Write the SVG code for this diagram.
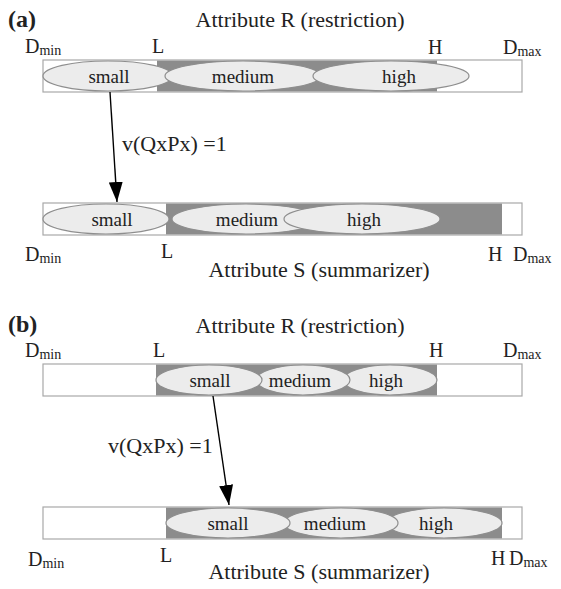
<svg xmlns="http://www.w3.org/2000/svg" width="561" height="589" viewBox="0 0 561 589" font-family="'Liberation Serif', 'DejaVu Serif', serif">
<style>
text{font-family:'Liberation Serif','DejaVu Serif',serif;fill:#222}
.lbl{font-size:20px}
.sub{font-size:14px}
.ttl{font-size:22px}
.pan{font-size:24px;font-weight:bold}
.el{font-size:19px;text-anchor:middle}
.bar{fill:#fff;stroke:#a8a8a8;stroke-width:1.2}
.dark{fill:#8c8c8c}
.ell{fill:#ececec;stroke:#8e8e8e;stroke-width:1.2}
.arr{stroke:#000;stroke-width:1.4;fill:none}
</style>
<defs>
<marker id="ah" markerUnits="userSpaceOnUse" markerWidth="20" markerHeight="14" refX="20" refY="7" orient="auto">
<path d="M0,0 L20,7 L0,14 z" fill="#000"/>
</marker>
</defs>
<rect width="561" height="589" fill="#fff"/>

<!-- Panel a -->
<text class="pan" x="8" y="27">(a)</text>
<text class="ttl" x="300" y="27" text-anchor="middle">Attribute R (restriction)</text>
<text class="lbl" x="25" y="53">D<tspan class="sub" dy="2">min</tspan></text>
<text class="lbl" x="152" y="53">L</text>
<text class="lbl" x="428" y="54">H</text>
<text class="lbl" x="503" y="54">D<tspan class="sub" dy="2">max</tspan></text>

<g id="barA1">
<rect class="bar" x="43" y="60" width="479" height="32"/>
<rect class="dark" x="157" y="60.6" width="280" height="30.8"/>
<ellipse class="ell" cx="108" cy="76" rx="65" ry="15"/>
<ellipse class="ell" cx="243" cy="76" rx="78" ry="15"/>
<ellipse class="ell" cx="391" cy="76" rx="78" ry="15"/>
<text class="el" x="109" y="83">small</text>
<text class="el" x="243" y="83">medium</text>
<text class="el" x="399" y="83">high</text>
</g>

<g id="barA2">
<rect class="bar" x="43" y="203" width="479" height="32"/>
<rect class="dark" x="166" y="203.6" width="336" height="30.8"/>
<ellipse class="ell" cx="106" cy="219" rx="63" ry="15"/>
<ellipse class="ell" cx="246" cy="219" rx="74" ry="15"/>
<ellipse class="ell" cx="362" cy="219" rx="78" ry="15"/>
<text class="el" x="112" y="226">small</text>
<text class="el" x="247" y="226">medium</text>
<text class="el" x="364" y="226">high</text>
</g>

<text class="lbl" x="25" y="261">D<tspan class="sub" dy="2">min</tspan></text>
<text class="lbl" x="161" y="258">L</text>
<text class="lbl" x="488" y="261">H</text>
<text class="lbl" x="513" y="261">D<tspan class="sub" dy="2">max</tspan></text>
<text class="ttl" x="319" y="277" text-anchor="middle">Attribute S (summarizer)</text>

<!-- Panel b -->
<text class="pan" x="8" y="332">(b)</text>
<text class="ttl" x="300" y="333" text-anchor="middle">Attribute R (restriction)</text>
<text class="lbl" x="25" y="357">D<tspan class="sub" dy="2">min</tspan></text>
<text class="lbl" x="153" y="357">L</text>
<text class="lbl" x="429" y="357">H</text>
<text class="lbl" x="503" y="357">D<tspan class="sub" dy="2">max</tspan></text>

<g id="barB1">
<rect class="bar" x="43" y="364" width="479" height="32"/>
<rect class="dark" x="156" y="364.6" width="281" height="30.8"/>
<ellipse class="ell" cx="390" cy="380" rx="47" ry="15"/>
<ellipse class="ell" cx="303" cy="380" rx="47" ry="15"/>
<ellipse class="ell" cx="209" cy="380" rx="53" ry="15"/>
<text class="el" x="210" y="387">small</text>
<text class="el" x="300" y="387">medium</text>
<text class="el" x="386" y="387">high</text>
</g>

<g id="barB2">
<rect class="bar" x="43" y="507" width="479" height="32"/>
<rect class="dark" x="166" y="507.6" width="336" height="30.8"/>
<ellipse class="ell" cx="444" cy="523" rx="58" ry="15"/>
<ellipse class="ell" cx="341" cy="523" rx="57" ry="15"/>
<ellipse class="ell" cx="228" cy="523" rx="62" ry="15"/>
<text class="el" x="228" y="530">small</text>
<text class="el" x="335" y="530">medium</text>
<text class="el" x="436" y="530">high</text>
</g>

<text class="lbl" x="28" y="566">D<tspan class="sub" dy="2">min</tspan></text>
<text class="lbl" x="160" y="562">L</text>
<text class="lbl" x="491" y="565">H</text>
<text class="lbl" x="509" y="565">D<tspan class="sub" dy="2">max</tspan></text>
<text class="ttl" x="319" y="579" text-anchor="middle">Attribute S (summarizer)</text>

<!-- connectors -->
<g id="connectors">
<line class="arr" x1="110" y1="92" x2="117" y2="202" marker-end="url(#ah)"/>
<text class="ttl" x="122" y="151">v(QxPx) =1</text>
<line class="arr" x1="213" y1="396" x2="229" y2="505" marker-end="url(#ah)"/>
<text class="ttl" x="108" y="453">v(QxPx) =1</text>
</g>
</svg>
